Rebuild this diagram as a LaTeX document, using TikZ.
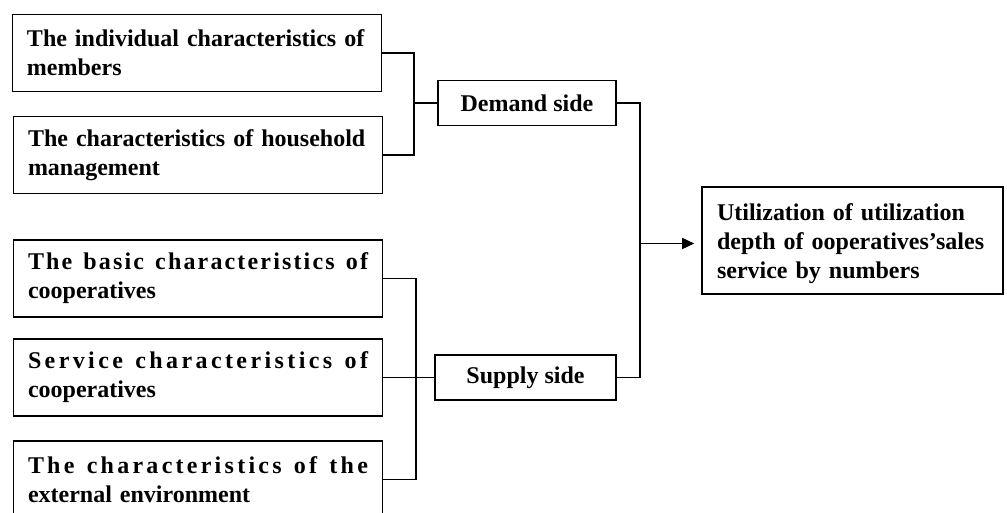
\documentclass[tikz,border=0pt]{standalone}
\usepackage{fontspec}
\setmainfont{Liberation Serif}
\usetikzlibrary{arrows.meta}
\makeatletter
\newcommand{\spw}[1]{\def\lsfirst{x}\@tfor\lsc:=#1\do{\ifx\lsfirst\empty\hspace{0pt plus 1fil}\fi\def\lsfirst{}\lsc}}
\makeatother
\newcommand{\wg}{\hspace{9pt plus 1fil}}
\newcommand{\fl}[1]{\makebox[340pt][s]{#1}}
\begin{document}
\begin{tikzpicture}[x=1pt,y=-1pt,
  every node/.style={font=\fontsize{24}{29}\selectfont\bfseries},
  leftbox/.style={draw, line width=1.6pt, minimum width=369pt, minimum height=77pt,
    text width=340pt, align=left, inner xsep=14.5pt, inner ysep=0pt},
  sidebox/.style={draw, line width=1.6pt, minimum height=45pt, inner sep=0pt},
  outbox/.style={draw, line width=1.6pt, minimum width=301pt, minimum height=107pt, inner sep=0pt},
  outtext/.style={text width=280pt, align=left, inner sep=0pt},
  conn/.style={line width=1.5pt}]
\useasboundingbox (0,0) rectangle (1007,513);
\clip (0,0) rectangle (1007,513);
\node[leftbox] (b1) at (197,53) {\fl{The individual characteristics of}\\members};
\node[leftbox] (b2) at (198,155) {\fl{The characteristics of household}\\management};
\node[leftbox] (b3) at (198,278.5) {\fl{\spw{The}\wg\spw{basic}\wg\spw{characteristics}\wg\spw{of}}\\cooperatives};
\node[leftbox] (b4) at (198,377.5) {\fl{\spw{Service}\wg\spw{characteristics}\wg\spw{of}}\\cooperatives};
\node[leftbox] (b5) at (198,479.5) {\fl{\spw{The}\wg\spw{characteristics}\wg\spw{of}\wg\spw{the}}\\external environment};
\node[sidebox, minimum width=178pt] (dem) at (527,103) {Demand side};
\node[sidebox, minimum width=181pt] (sup) at (525.5,377.5) {Supply side};
\node[outbox] (out) at (852.5,240.5) {};
\node[outtext] (outt) at (857,244) {Utilization of utilization depth of ooperatives’sales service by numbers};
\coordinate (jx) at (414,0);
\coordinate (sx) at (416,0);
\coordinate (rx) at (640,0);
\draw[conn] (b1.east) -- (b1.east -| jx) -- (b2.east -| jx) -- (b2.east);
\draw[conn] (dem.west) -- (dem.west -| jx);
\draw[conn] (b3.east) -- (b3.east -| sx) -- (b5.east -| sx) -- (b5.east);
\draw[conn] (b4.east) -- (sup.west);
\draw[conn] (dem.east) -- (dem.east -| rx) -- (sup.east -| rx) -- (sup.east);
\draw[conn, -{Triangle[length=12pt,width=11pt]}, shorten >=7pt] ([yshift=-3pt]out.west -| rx) -- ([yshift=-3pt]out.west);
\end{tikzpicture}
\end{document}
